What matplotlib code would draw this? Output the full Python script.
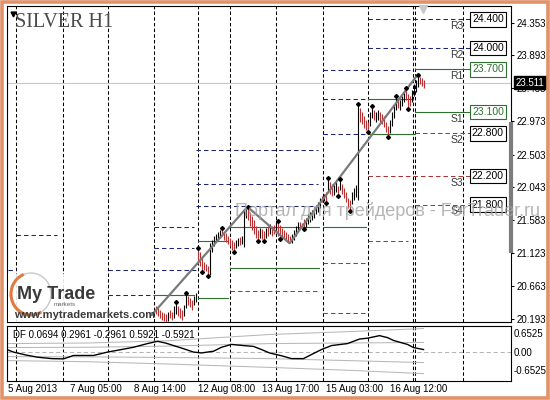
import numpy as np
import matplotlib
matplotlib.use("Agg")
import matplotlib.pyplot as plt
import matplotlib.transforms as mtransforms
from matplotlib.patches import Rectangle, Arc

plt.rcParams['font.family'] = ['Liberation Sans', 'DejaVu Sans']
plt.rcParams['lines.scale_dashes'] = False

# H1 bars, x = bar number counted from the left edge of the window
first_bar = 74
bar_high = [20.38, 20.35, 20.32, 20.30, 20.28, 20.27, 20.30, 20.32, 20.30, 20.38,
            20.43, 20.38, 20.35, 20.32, 20.39, 20.56, 20.52, 20.49, 20.46, 20.52,
            20.56, 21.19, 21.14, 21.05, 21.00, 20.97, 20.94, 21.26, 21.30, 21.36,
            21.39, 21.42, 21.45, 21.47, 21.42, 21.40, 21.36, 21.33, 21.30, 21.28,
            21.30, 21.33, 21.35, 21.36, 21.73, 21.75, 21.77, 21.70, 21.64, 21.59,
            21.50, 21.45, 21.47, 21.46, 21.43, 21.47, 21.50, 21.53, 21.50, 21.51,
            21.56, 21.57, 21.51, 21.47, 21.45, 21.42, 21.39, 21.36, 21.39, 21.45,
            21.50, 21.56, 21.56, 21.54, 21.60, 21.61, 21.67, 21.70, 21.73, 21.77,
            21.80, 21.84, 21.89, 21.92, 21.95, 21.98, 22.17, 22.12, 22.09, 22.08,
            22.12, 22.06, 22.16, 22.09, 22.03, 21.98, 21.89, 21.87, 21.98, 22.03,
            22.08, 23.21, 23.16, 23.10, 23.04, 22.99, 22.96, 23.10, 23.18, 23.13,
            23.10, 23.13, 23.10, 23.07, 23.04, 22.96, 22.90, 22.99, 23.10, 23.21,
            23.32, 23.30, 23.27, 23.32, 23.38, 23.44, 23.35, 23.32, 23.41, 23.49,
            23.55, 23.62, 23.59, 23.58, 23.55]
bar_low = [20.27, 20.24, 20.21, 20.18, 20.17, 20.15, 20.17, 20.21, 20.18, 20.21,
           20.27, 20.24, 20.21, 20.18, 20.24, 20.35, 20.39, 20.37, 20.32, 20.39,
           20.43, 21.00, 20.94, 20.86, 20.88, 20.87, 20.80, 20.81, 21.14, 21.22,
           21.28, 21.30, 21.33, 21.36, 21.30, 21.28, 21.25, 21.22, 21.16, 21.14,
           21.19, 21.22, 21.24, 21.25, 21.21, 21.61, 21.59, 21.50, 21.45, 21.39,
           21.33, 21.29, 21.33, 21.32, 21.29, 21.33, 21.36, 21.39, 21.36, 21.39,
           21.42, 21.36, 21.32, 21.34, 21.33, 21.29, 21.28, 21.26, 21.26, 21.30,
           21.36, 21.42, 21.47, 21.49, 21.46, 21.49, 21.53, 21.56, 21.59, 21.61,
           21.67, 21.70, 21.75, 21.84, 21.85, 21.82, 21.98, 21.95, 21.92, 21.94,
           21.98, 21.92, 22.01, 21.95, 21.89, 21.84, 21.75, 21.71, 21.81, 21.87,
           21.91, 21.87, 22.96, 22.93, 22.88, 22.85, 22.82, 22.90, 23.02, 22.99,
           22.96, 22.99, 22.96, 22.93, 22.89, 22.82, 22.75, 22.80, 22.90, 23.02,
           23.13, 23.16, 23.13, 23.18, 23.24, 23.27, 23.14, 23.18, 23.24, 23.32,
           23.38, 23.45, 23.49, 23.46, 23.44]
bar_dir = ("rrrrrrkrrk" "krrrkkrrrk" "krrrrrrkkk" "kkkrrrrrrr" "kkrkkkrrrr"
           "rrkrrkrkrr" "krrrrrrrkk" "kkrrrkkkkk" "kkkrkrkrrk" "krkrrrrrkk"
           "kkrrrrrkkr" "kkrrrrrkkk" "krkkkrrrkk" "kkrrr")
last_price = 23.511

frac_up = [84, 89, 95, 107, 120, 135, 160, 166, 175, 182, 194, 199, 205]
frac_dn = [97, 100, 113, 125, 128, 136, 148, 159, 165, 171, 180, 190, 200]

zz_bars = [72, 120, 141, 205]
zz_price = [20.25, 21.77, 21.26, 23.62]

day_lines = [4, 27.5, 50, 73, 95, 111, 134, 157.5, 180, 202.5, 203.5, 227.5]

# daily levels: start bar, end bar, price, kind (n navy dash, g green, r red dash)
levels = [
    (0, 4, 20.88, 'n'), (0, 4, 20.53, 'n'),
    (4, 24.5, 21.37, 'n'),
    (50, 73, 20.88, 'n'), (50, 73, 20.53, 'n'),
    (73, 93, 21.49, 'n'), (73, 93, 21.19, 'n'), (73, 95, 20.88, 'n'), (73, 93, 20.53, 'g'),
    (94, 155, 22.57, 'n'), (94, 155, 22.09, 'n'), (94, 155, 21.78, 'n'),
    (95, 110, 21.29, 'g'), (95, 110, 20.49, 'g'),
    (111, 155.5, 21.49, 'g'), (111, 155.5, 20.91, 'g'), (111, 155.5, 20.59, 'r'),
    (157.5, 201.5, 23.69, 'n'), (157.5, 180, 23.28, 'n'), (157.5, 180, 22.79, 'n'),
    (157.5, 179, 21.49, 'g'), (157.5, 180, 20.98, 'r'), (157.5, 180, 20.28, 'r'),
    (180, 231.5, 24.40, 'n'), (180, 231.5, 24.00, 'n'),
    (180, 202.5, 23.28, 'g'), (180, 203.5, 22.79, 'g'),
    (180, 231.5, 22.20, 'r'), (180, 200, 21.29, 'r'),
    (203.5, 231.5, 23.70, 'g'), (203.5, 231.5, 23.10, 'g'),
    (203.5, 231.5, 22.80, 'r'), (203.5, 231.5, 21.80, 'r'),
]

cur_names = ['R3', 'R2', 'R1', 'S1', 'S2', 'S3', 'S4']
cur_levels = [24.400, 24.000, 23.700, 23.100, 22.800, 22.200, 21.800]
cur_green = [False, False, True, True, False, False, False]

price_ticks = [24.353, 23.893, 23.433, 22.973, 22.503, 22.043, 21.583, 21.123, 20.663, 20.193]
scale_bar = [21.12, 22.96]

time_pos = [0, 31, 63, 95, 127, 159, 191]
time_labels = ["5 Aug 2013", "7 Aug 05:00", "8 Aug 14:00", "12 Aug 08:00",
               "13 Aug 17:00", "15 Aug 03:00", "16 Aug 12:00"]

# DF oscillator
df_bars = [0, 3, 9, 15, 22, 28, 33, 43, 50, 57, 63, 70, 75, 79, 83, 88, 93, 97, 103, 107,
           112, 118, 123, 127, 131, 137, 142, 148, 153, 157, 162, 170, 176, 180, 186, 190,
           193, 200, 203, 208]
df_vals = [0.06, -0.02, -0.12, -0.20, -0.25, -0.26, -0.14, -0.14, -0.02, 0.07,
           0.15, 0.28, 0.36, 0.30, 0.21, 0.10, -0.02, -0.05, 0.01, 0.15,
           0.25, 0.21, 0.18, 0.07, -0.05, -0.15, -0.25, -0.25, -0.07, 0.07,
           0.21, 0.28, 0.44, 0.47, 0.56, 0.49, 0.39, 0.25, 0.14, 0.07]
band_bars = [0, 40, 80, 131, 170, 208]
band_up2 = [0.28, 0.30, 0.38, 0.60, 0.70, 0.81]
band_up1 = [0.14, 0.15, 0.19, 0.28, 0.30, 0.32]
band_dn1 = [-0.18, -0.19, -0.21, -0.25, -0.32, -0.39]
band_dn2 = [-0.32, -0.36, -0.44, -0.56, -0.66, -0.78]
df_legend = [0.0694, 0.2961, -0.2961, 0.5921, -0.5921]
df_ticks = [0.6525, 0.0, -0.6525]
df_tick_labels = ["0.6525", "0.00", "-0.6525"]

NAVY = '#1C2477'
GREEN = '#2F6F2F'
RED = '#A83434'
DOWN = '#B83030'

fig = plt.figure(figsize=(5.5, 4.0), dpi=100)
fig.patch.set_facecolor('white')
ax = fig.add_axes([7 / 550, 1 - 322 / 400, 504 / 550, 316 / 400])
ax2 = fig.add_axes([7 / 550, 1 - 381 / 400, 504 / 550, 55 / 400])

for a in (ax, ax2):
    a.set_xlim(-0.25, 251.75)
    for s in a.spines.values():
        s.set_linewidth(0.8)
        s.set_color('black')
    for d in day_lines:
        a.axvline(d, color='black', lw=0.75, ls=(0, (2.5, 1.6)), zorder=1)

ax.set_ylim(20.155, 24.587)

# daily levels
for b0, b1, p, k in levels:
    if k == 'g':
        ax.plot([b0, b1], [p, p], color=GREEN, lw=0.8, zorder=2)
    else:
        ax.plot([b0, b1], [p, p], color=NAVY if k == 'n' else RED, lw=0.75,
                ls=(0, (3.2, 2.2)), zorder=2)

ax.axhline(last_price, color='#C8C8C8', lw=0.8, zorder=2)

# price bars
bars = np.arange(first_bar, first_bar + len(bar_high))
cols = [DOWN if d == 'r' else 'black' for d in bar_dir]
ax.vlines(bars, bar_low, bar_high, colors=cols, lw=0.8, zorder=3)

ax.plot(zz_bars, zz_price, color='#7A7A7A', lw=1.6, zorder=4, solid_capstyle='round')

ax.plot(frac_up, [bar_high[b - first_bar] for b in frac_up], 'D', color='black', ms=2.0, zorder=5)
ax.plot(frac_dn, [bar_low[b - first_bar] for b in frac_dn], 'D', color='black', ms=2.0, zorder=5)

# current day level labels
for name, lv, g in zip(cur_names, cur_levels, cur_green):
    c = GREEN if g else 'black'
    ax.text(240.2, lv, f"{lv:.3f}", ha='center', va='center', fontsize=7.5, color=c,
            zorder=6, bbox=dict(boxstyle='square,pad=0.22', fc='white', ec=c, lw=0.8))
    ax.annotate(name, (221.5, lv), xytext=(0, -1.2), textcoords='offset points',
                ha='left', va='top', fontsize=7.5, color='#3A3A3A', zorder=6)

# price scale
ax.set_xticks([])
ax.yaxis.tick_right()
ax.set_yticks(price_ticks)
ax.set_yticklabels([f"{v:.3f}" for v in price_ticks], fontsize=7)
ax.tick_params(axis='y', length=2.2, width=0.75, pad=1.5)

trans = mtransforms.blended_transform_factory(ax.transAxes, ax.transData)
ax.plot([1.0, 1.0], scale_bar, transform=trans, color='#7C7C7C', lw=3,
        clip_on=False, solid_capstyle='butt', zorder=6)
ax.annotate(f"{last_price:.3f}", (1.0, last_price), xycoords=trans, xytext=(3.2, 0),
            textcoords='offset points', ha='left', va='center', fontsize=7,
            color='white', annotation_clip=False,
            bbox=dict(boxstyle='square,pad=0.18', fc='black', ec='black'))

# DF panel
ax2.set_ylim(-1.04, 0.90)
for b in (band_up2, band_up1, band_dn1, band_dn2):
    ax2.plot(band_bars, b, color='#B8B8B8', lw=0.75, zorder=2)
ax2.axhline(0, color='#B4B4B4', lw=0.75, ls=(0, (3, 2)), zorder=2)
ax2.plot(df_bars, df_vals, color='black', lw=1.0, zorder=3)
ax2.yaxis.tick_right()
ax2.set_yticks(df_ticks)
ax2.set_yticklabels(df_tick_labels, fontsize=7)
ax2.tick_params(axis='y', length=0, pad=2)
ax2.set_xticks(time_pos)
ax2.set_xticklabels(time_labels, fontsize=7, ha='left')
ax2.tick_params(axis='x', length=0, pad=2.5)
ax2.annotate("DF " + " ".join(f"{v:.4f}" for v in df_legend), xy=(0, 1),
             xycoords='axes fraction', xytext=(4, -3), textcoords='offset points',
             ha='left', va='top', fontsize=7)

# overlay: frame, title, logo, watermark
ov = fig.add_axes([0, 0, 1, 1], zorder=5)
ov.set_xlim(0, 550)
ov.set_ylim(400, 0)
ov.axis('off')
ov.patch.set_alpha(0)

ov.add_patch(Rectangle((1.6, 1.6), 546.8, 396.8, fill=False, ec='#E1926B', lw=2.6))
ov.text(15, 27, "SILVER H1", family=['Liberation Serif', 'DejaVu Serif'], fontsize=14.5,
        color='#4A4A4A', va='baseline')
ov.plot(12.5, 13.5, marker='v', color='black', ms=3.5)
ov.plot(423, 9, marker='v', color='#C8C8C8', ms=6)

ov.add_patch(Rectangle((7.6, 274), 96, 47.5, fc='white', ec='none', alpha=0.88))
ov.add_patch(Arc((31, 294), 40, 42, theta1=60, theta2=250, color='#E27A3F', lw=2.2))
ov.add_patch(Arc((31, 294), 40, 42, theta1=250, theta2=420, color='#C8C8C8', lw=1.0))
ov.text(17, 299, "My Trade", fontsize=13, fontweight='bold', color='#3A3A3A', va='baseline')
ov.text(54, 306.5, "markets", fontsize=4.5, color='#666666', va='baseline')
ov.text(14, 318.5, "www.mytrademarkets.com", fontsize=8, fontweight='bold',
        color='#3A3A3A', va='baseline')

ov.text(235, 216, "Портал для трейдеров - ForTrader.ru", fontsize=13,
        color='#A4A4A4', alpha=0.8, va='baseline')

fig.savefig("out.png", dpi=100)
